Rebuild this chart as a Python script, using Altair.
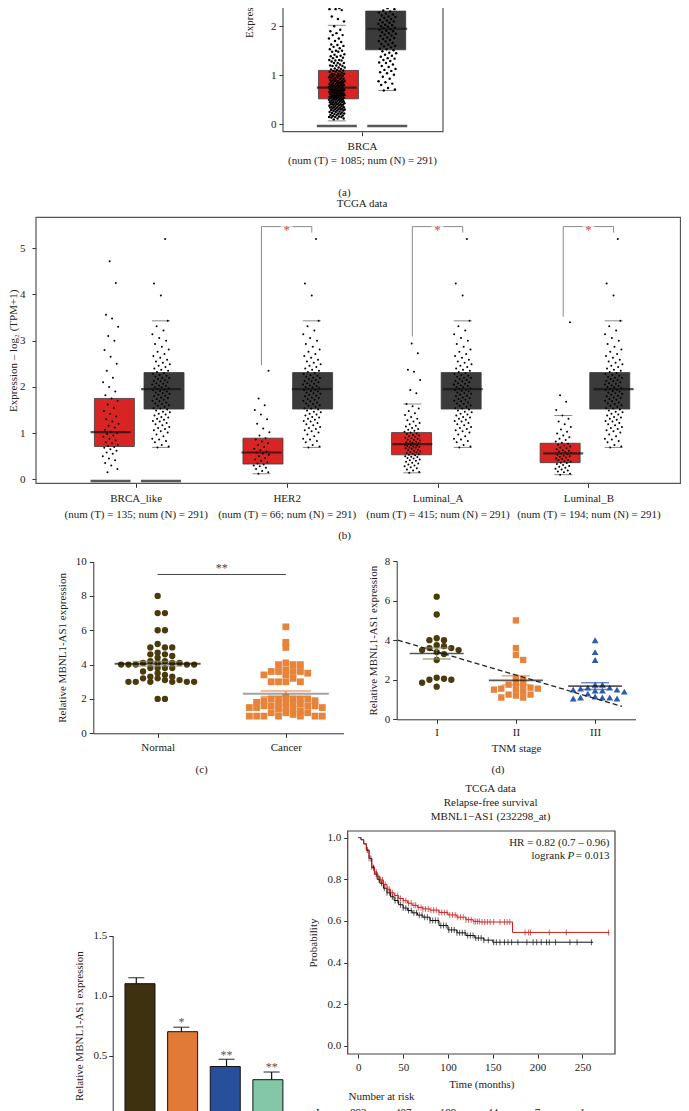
import json
import altair as alt
import pandas as pd

M = 8
W, H = 673, 1103
FONT = "Liberation Serif"
INK = "#222222"

# ---------------- (a) BRCA tumour vs normal ----------------
a_label = "BRCA"
a_counts = "(num (T) = 1085; num (N) = 291)"
a_q1 = [0.52, 1.52]
a_median = [0.75, 1.95]
a_q3 = [1.10, 2.31]
a_low = [0.07, 0.69]
a_high = [2.02, 3.43]

# ---------------- (b) subtypes ----------------
b_categories = ["BRCA_like", "HER2", "Luminal_A", "Luminal_B"]
b_counts = ["(num (T) = 135; num (N) = 291)", "(num (T) = 66; num (N) = 291)",
            "(num (T) = 415; num (N) = 291)", "(num (T) = 194; num (N) = 291)"]
b_tumor_q1 = [0.71, 0.33, 0.53, 0.36]
b_tumor_median = [1.02, 0.58, 0.76, 0.56]
b_tumor_q3 = [1.75, 0.89, 1.01, 0.78]
b_tumor_low = [None, 0.12, 0.14, 0.10]
b_tumor_high = [None, None, 1.63, 1.38]
normal_q1, normal_median, normal_q3, normal_low, normal_high = 1.52, 1.95, 2.31, 0.69, 3.43
b_sig_start = [None, 2.47, 3.09, 3.52]
b_sig_top = 5.47
b_sig_end = 5.34
zero_bar = -0.035

normal_points = [0.69, 0.71, 0.74, 0.8, 0.83, 0.86, 0.88, 0.93, 0.97, 1.01, 1.04, 1.06, 1.09, 1.11,
                 1.13, 1.17, 1.19, 1.22, 1.25, 1.26, 1.29, 1.31, 1.34, 1.35, 1.38, 1.4, 1.42, 1.45,
                 1.46, 1.49, 1.51, 1.53, 1.54, 1.57, 1.59, 1.6, 1.63, 1.64, 1.66, 1.69, 1.7, 1.72,
                 1.74, 1.76, 1.77, 1.8, 1.81, 1.83, 1.85, 1.86, 1.88, 1.9, 1.91, 1.93, 1.94, 1.96,
                 1.97, 1.99, 2.0, 2.02, 2.03, 2.05, 2.07, 2.08, 2.1, 2.12, 2.13, 2.15, 2.17, 2.19,
                 2.2, 2.22, 2.24, 2.26, 2.28, 2.3, 2.32, 2.35, 2.37, 2.4, 2.43, 2.46, 2.49, 2.52,
                 2.55, 2.59, 2.63, 2.67, 2.71, 2.76, 2.81, 2.87, 2.93, 3.0, 3.06, 3.14, 3.22, 3.31,
                 3.43, 3.98, 4.24, 5.2]
brca_like_points = [0.15, 0.22, 0.3, 0.35, 0.41, 0.45, 0.5, 0.55, 0.58, 0.62, 0.65, 0.68, 0.7,
                    0.72, 0.75, 0.78, 0.8, 0.84, 0.88, 0.92, 0.95, 0.98, 1.0, 1.03, 1.07, 1.12,
                    1.16, 1.2, 1.25, 1.3, 1.36, 1.42, 1.48, 1.55, 1.62, 1.7, 1.75, 1.82, 1.9, 2.0,
                    2.1, 2.2, 2.35, 2.5, 2.65, 2.8, 3.0, 3.1, 3.3, 3.48, 3.56, 4.25, 4.72]
her2_points = [0.12, 0.15, 0.18, 0.22, 0.25, 0.28, 0.3, 0.32, 0.34, 0.37, 0.4, 0.43, 0.46, 0.5,
               0.53, 0.56, 0.58, 0.6, 0.63, 0.66, 0.7, 0.74, 0.78, 0.82, 0.86, 0.89, 0.95, 1.02,
               1.1, 1.2, 1.3, 1.4, 1.5, 1.6, 1.75, 2.35]
luminal_a_points = [0.14, 0.16, 0.19, 0.21, 0.24, 0.26, 0.28, 0.3, 0.32, 0.34, 0.36, 0.38, 0.4,
                    0.41, 0.43, 0.45, 0.46, 0.48, 0.49, 0.5, 0.52, 0.53, 0.54, 0.55, 0.57, 0.58,
                    0.59, 0.6, 0.62, 0.63, 0.64, 0.66, 0.67, 0.68, 0.69, 0.7, 0.71, 0.72, 0.73,
                    0.74, 0.75, 0.76, 0.77, 0.78, 0.79, 0.8, 0.81, 0.82, 0.84, 0.85, 0.86, 0.88,
                    0.89, 0.9, 0.92, 0.93, 0.95, 0.96, 0.98, 0.99, 1.01, 1.03, 1.05, 1.07, 1.09,
                    1.11, 1.14, 1.16, 1.19, 1.22, 1.25, 1.28, 1.31, 1.35, 1.39, 1.43, 1.48, 1.53,
                    1.58, 1.63, 1.86, 1.93, 2.15, 2.33, 2.37, 2.73, 2.94]
luminal_b_points = [0.1, 0.12, 0.15, 0.17, 0.19, 0.21, 0.23, 0.25, 0.27, 0.29, 0.31, 0.33, 0.35,
                    0.36, 0.38, 0.39, 0.41, 0.42, 0.44, 0.45, 0.47, 0.48, 0.5, 0.51, 0.53, 0.54,
                    0.56, 0.57, 0.59, 0.6, 0.62, 0.63, 0.65, 0.67, 0.69, 0.71, 0.73, 0.75, 0.77,
                    0.79, 0.82, 0.85, 0.88, 0.91, 0.95, 0.99, 1.03, 1.08, 1.13, 1.19, 1.25, 1.31,
                    1.38, 1.5, 1.68, 1.82, 3.4]

# ---------------- (c) normal vs cancer ----------------
c_groups = ["Normal", "Cancer"]
c_normal = [8.0, 7.0, 7.0, 6.0, 6.0, 5.2, 5.0, 5.0, 5.0, 4.7, 4.6, 4.6, 4.5, 4.4, 4.2, 4.2, 4.1,
            4.1, 4.1, 4.1, 4.0, 4.0, 4.0, 4.0, 4.0, 3.8, 3.8, 3.8, 3.8, 3.6, 3.5, 3.4, 3.3, 3.3,
            3.2, 3.2, 3.1, 3.1, 3.0, 3.0, 3.0, 3.0, 3.0, 3.0, 2.0, 2.0]
c_cancer = [6.2, 5.3, 5.0, 4.1, 4.0, 4.0, 4.0, 3.7, 3.6, 3.6, 3.6, 3.6, 3.5, 3.4, 3.4, 3.2, 3.0,
            3.0, 3.0, 3.0, 2.1, 2.0, 2.0, 2.0, 2.0, 2.0, 1.9, 1.9, 1.8, 1.8, 1.7, 1.7, 1.7, 1.6,
            1.6, 1.6, 1.6, 1.5, 1.5, 1.5, 1.5, 1.4, 1.4, 1.3, 1.2, 1.2, 1.2, 1.1, 1.0, 1.0, 1.0,
            1.0, 1.0, 1.0, 1.0]
c_mean = [4.05, 2.30]
c_sem = [0.13, 0.16]
c_sig = "**"

# ---------------- (d) TNM stage ----------------
d_stages = ["I", "II", "III"]
d_stage1 = [6.2, 5.3, 4.1, 4.0, 4.0, 3.75, 3.7, 3.6, 3.6, 3.5, 3.5, 3.4, 3.3, 3.0, 2.1, 2.0,
            2.0, 2.05, 1.85, 1.65]
d_stage2 = [5.0, 3.6, 3.25, 3.0, 2.1, 2.0, 1.8, 1.75, 1.7, 1.6, 1.55, 1.55, 1.5, 1.5, 1.4,
            1.25, 1.25, 1.2, 1.1, 1.1]
d_stage3 = [4.0, 3.4, 3.0, 1.75, 1.75, 1.6, 1.6, 1.55, 1.5, 1.5, 1.45, 1.45, 1.4, 1.3, 1.15,
            1.1, 1.1, 1.05, 1.05, 1.1]
d_mean = [3.33, 1.97, 1.68]
d_sem = [0.28, 0.23, 0.17]
d_trend_x = [-0.49, 2.34]
d_trend_y = [4.0, 0.65]

# ---------------- (e) bar chart ----------------
e_values = [1.10, 0.70, 0.41, 0.30]
e_errors = [0.05, 0.037, 0.06, 0.064]
e_marks = ["", "*", "**", "**"]
e_fills = ["#3d3110", "#e07a36", "#274f9c", "#82c7a6"]

# ---------------- (f) Kaplan-Meier ----------------
f_title = ["TCGA data", "Relapse-free survival", "MBNL1\u2212AS1 (232298_at)"]
f_high_t = [0, 3, 6, 9, 12, 15, 18, 21, 24, 28, 32, 36, 40, 45, 50, 55, 60, 66, 72, 80, 90, 100,
            110, 120, 128, 136, 172, 280]
f_high_s = [1.0, 0.99, 0.97, 0.94, 0.9, 0.86, 0.835, 0.815, 0.797, 0.775, 0.752, 0.735, 0.722,
            0.708, 0.697, 0.685, 0.675, 0.665, 0.658, 0.652, 0.641, 0.629, 0.618, 0.606, 0.598,
            0.595, 0.545, 0.545]
f_low_t = [0, 3, 6, 9, 12, 15, 18, 21, 24, 28, 32, 36, 40, 45, 50, 55, 60, 66, 72, 80, 90, 100,
           110, 120, 130, 140, 150, 262]
f_low_s = [1.0, 0.99, 0.97, 0.94, 0.9, 0.855, 0.825, 0.8, 0.781, 0.757, 0.735, 0.716, 0.698,
           0.678, 0.662, 0.65, 0.639, 0.628, 0.618, 0.602, 0.578, 0.557, 0.543, 0.53, 0.518,
           0.508, 0.498, 0.498]
f_high_censor = [12, 15, 18, 20, 22, 25, 27, 30, 33, 35, 38, 41, 44, 47, 50, 53, 56, 59, 62, 64,
                 67, 70, 72, 75, 78, 81, 84, 87, 90, 93, 96, 99, 102, 105, 108, 111, 114, 117,
                 120, 123, 126, 129, 131, 133, 135, 138, 141, 144, 147, 151, 158, 163, 166, 169,
                 186, 190, 192, 213, 232, 279]
f_low_censor = [10, 14, 17, 20, 23, 26, 29, 32, 35, 38, 41, 44, 47, 50, 53, 56, 59, 62, 65, 68,
                71, 74, 77, 80, 83, 86, 89, 92, 95, 98, 101, 104, 107, 110, 113, 116, 119, 122,
                125, 128, 131, 134, 137, 140, 145, 151, 154, 158, 163, 167, 171, 178, 188, 195,
                199, 204, 210, 213, 220, 236, 244, 260]
f_hr = "HR = 0.82 (0.7 \u2013 0.96)"
f_p = "= 0.013"
f_risk_times = [0, 50, 100, 150, 200, 250]
f_risk_low = ["893", "487", "189", "44", "7", "1"]

TUMOR = "#d92424"
NORMAL = "#3b3b3b"
OLIVE = "#4a3b0c"
ORANGE = "#e8833a"
BLUE = "#2c5cab"


# ================= helpers =================
def sc(domain, p0, p1):
    return alt.Scale(domain=list(domain), range=[p0 - M, p1 - M], nice=False, zero=False)


AX = sc([-0.527, 0.54], 283, 443)
AY = sc([-0.151, 2.373], 131.7, 8)
BX = sc([-0.661, 3.66], 36, 688)
BY = sc([-0.087, 5.671], 483.3, 217.3)
CX = sc([-0.502, 1.45], 93.3, 343.5)
CY = sc([0, 10], 733.3, 561.6)
DX = sc([-0.505, 2.51], 396.7, 635.5)
DY = sc([0, 8], 719.3, 561.1)
EX = sc([-0.523, 3.5], 112.7, 294.2)
EY = sc([0, 1.5], 1115.7, 935.7)
FX = sc([-11.83, 286.3], 347.7, 615)
FY = sc([-0.0384, 1.0317], 1054, 831)


def left_axis(page_x, values, **kw):
    base = dict(orient="left", offset=-(page_x - M), values=values, grid=False,
                labelFlush=False, labelOverlap=False)
    base.update(kw)
    return alt.Axis(**base)


def bottom_axis(page_y, values, **kw):
    base = dict(orient="bottom", offset=(page_y - M) - H, values=values, grid=False,
                labelFlush=False, labelOverlap=False)
    base.update(kw)
    return alt.Axis(**base)


def xq(field, S, axis=None):
    return alt.X(f"{field}:Q", scale=S, axis=axis)


def yq(field, S, axis=None):
    return alt.Y(f"{field}:Q", scale=S, axis=axis)


layers = []


def text_layer(rows, X, Y, **mk):
    props = dict(font=FONT, fontSize=11, color=INK, baseline="middle")
    props.update(mk)
    return alt.Chart(pd.DataFrame(rows)).mark_text(**props).encode(
        x=xq("x", X), y=yq("y", Y), text="t:N")


def frame(X, Y, xd, yd, color="#555555"):
    df = pd.DataFrame([dict(x0=xd[0], x1=xd[1], y0=yd[0], y1=yd[1])])
    return alt.Chart(df).mark_rect(fill="white", fillOpacity=0, stroke=color, strokeWidth=1.2).encode(
        x=xq("x0", X), x2="x1:Q", y=yq("y0", Y), y2="y1:Q")


def box_layers(df, X, Y):
    out = [alt.Chart(df).mark_bar(size=40, orient="vertical", stroke="#3a3a3a", strokeWidth=0.8).encode(
        x=xq("x", X), y=yq("q1", Y), y2="q3:Q", color=alt.Color("fill:N", scale=None))]
    caps = pd.concat([df[["x", "lo"]].rename(columns={"lo": "v"}),
                      df[["x", "hi"]].rename(columns={"hi": "v"})]).dropna()
    out.append(alt.Chart(caps).mark_tick(orient="horizontal", size=18, thickness=1, color="#555555").encode(
        x=xq("x", X), y=yq("v", Y)))
    return out


def median_layer(df, X, Y):
    return alt.Chart(df).mark_tick(orient="horizontal", size=40, thickness=2.2, color="#111111").encode(
        x=xq("x", X), y=yq("med", Y))


GOLD = 0.6180339887


def jitter_rows(vals, center, half_px, ppx):
    rows = []
    for k, v in enumerate(sorted(vals)):
        frac = (k * GOLD + 0.31) % 1.0
        rows.append(dict(x=center + (frac - 0.5) * 2 * half_px / ppx, v=v))
    return rows


COLS = [0]
for _k in range(1, 14):
    COLS += [_k, -_k]


def swarm_rows(vals, center, ppu, col_px, ppx, sep_px=5.5):
    placed = {}
    rows = []
    for v in sorted(vals, reverse=True):
        y = v * ppu
        for c in COLS:
            if all(abs(y - yy) >= sep_px for yy in placed.get(c, [])):
                placed.setdefault(c, []).append(y)
                rows.append(dict(x=center + c * col_px / ppx, v=v))
                break
    return rows


# ================= panel (a) =================
A_PPX = 149.95
a_off = 25.2 / A_PPX
a_box = pd.DataFrame(dict(x=[-a_off, a_off], q1=a_q1, med=a_median, q3=a_q3, lo=a_low, hi=a_high,
                          fill=[TUMOR, NORMAL]))
layers.append(frame(AX, AY, [-0.527, 0.54], [-0.151, 3.5]))
layers += box_layers(a_box, AX, AY)
a_tumor_all = brca_like_points + her2_points + luminal_a_points + luminal_b_points
a_pts = jitter_rows(a_tumor_all, -a_off, 8, A_PPX) + jitter_rows(normal_points, a_off, 9, A_PPX)
layers.append(alt.Chart(pd.DataFrame(a_pts)).mark_circle(size=6, color="black", opacity=1).encode(
    x=xq("x", AX), y=yq("v", AY)))
layers.append(median_layer(a_box, AX, AY))
layers.append(alt.Chart(pd.DataFrame(dict(x=[-a_off, a_off], v=[zero_bar, zero_bar]))).mark_tick(
    orient="horizontal", size=40, thickness=2.5, color="#111111").encode(
    x=xq("x", AX, bottom_axis(131.7, [0], labelExpr=json.dumps([[a_label, a_counts]], ensure_ascii=False)
                              + "[round(datum.value)]", labelLineHeight=13.5, labelPadding=5, title=None,
                              domain=False)),
    y=yq("v", AY, left_axis(283, [0, 1, 2], labelPadding=3, title=None, domain=False))))
layers.append(text_layer([dict(x=-0.747, y=1.761, t="Expression \u2013 log\u2082 (TPM+1)")], AX, AY,
                         angle=270, align="left"))
layers.append(text_layer([dict(x=-0.117, y=-1.40, t="(a)")], AX, AY))

# ================= panel (b) =================
B_PPX = 150.9
b_off = 25.2 / B_PPX
n = len(b_categories)
b_box = pd.DataFrame(dict(
    x=[i - b_off for i in range(n)] + [i + b_off for i in range(n)],
    q1=b_tumor_q1 + [normal_q1] * n, med=b_tumor_median + [normal_median] * n,
    q3=b_tumor_q3 + [normal_q3] * n,
    lo=[float("nan") if v is None else v for v in b_tumor_low] + [normal_low] * n,
    hi=[float("nan") if v is None else v for v in b_tumor_high] + [normal_high] * n,
    fill=[TUMOR] * n + [NORMAL] * n))
layers.append(frame(BX, BY, [-0.661, 3.61], [-0.087, 5.671]))
layers += box_layers(b_box, BX, BY)
b_pts = []
for i, lst in enumerate([brca_like_points, her2_points, luminal_a_points, luminal_b_points]):
    b_pts += jitter_rows(lst, i - b_off, 8, B_PPX)
    b_pts += jitter_rows(normal_points, i + b_off, 9, B_PPX)
layers.append(alt.Chart(pd.DataFrame(b_pts)).mark_circle(size=4, color="black", opacity=1).encode(
    x=xq("x", BX), y=yq("v", BY)))
layers.append(median_layer(b_box, BX, BY))
b_labels = json.dumps([[c, s] for c, s in zip(b_categories, b_counts)], ensure_ascii=False)
layers.append(alt.Chart(pd.DataFrame(dict(x=[-b_off, b_off], v=[zero_bar, zero_bar]))).mark_tick(
    orient="horizontal", size=40, thickness=2.5, color="#111111").encode(
    x=xq("x", BX, bottom_axis(483.3, list(range(n)), labelExpr=b_labels + "[round(datum.value)]",
                              labelLineHeight=16, labelPadding=5, title=None, domain=False)),
    y=yq("v", BY, left_axis(36, [0, 1, 2, 3, 4, 5], labelPadding=7, title="Expression \u2013 log\u2082 (TPM+1)",
                            titlePadding=1, domain=False))))
br = []
for i, s in enumerate(b_sig_start):
    if s is None:
        continue
    pts = [(i - b_off, s), (i - b_off, b_sig_top), (i + b_off, b_sig_top), (i + b_off, b_sig_end)]
    for k, (xx, yy) in enumerate(pts):
        br.append(dict(id=i, k=k, x=xx, v=yy))
br_df = pd.DataFrame(br)
layers.append(alt.Chart(br_df).mark_line(color="#8a8a8a", strokeWidth=1).encode(
    x=xq("x", BX), y=yq("v", BY), detail="id:N", order="k:Q"))
sig_df = pd.DataFrame([dict(x=i, v=b_sig_top) for i, s in enumerate(b_sig_start) if s is not None])
layers.append(alt.Chart(sig_df).mark_tick(orient="horizontal", size=12, thickness=3, color="white").encode(
    x=xq("x", BX), y=yq("v", BY)))
layers.append(text_layer([dict(x=i, y=5.40, t="*") for i, s in enumerate(b_sig_start) if s is not None],
                         BX, BY, color="#e8413a", fontSize=13))
layers.append(text_layer([dict(x=1.5, y=5.96, t="TCGA data")], BX, BY))
layers.append(text_layer([dict(x=1.384, y=-1.227, t="(b)")], BX, BY))

# ================= panel (c) =================
C_PPX = 128.2
c_n = pd.DataFrame(swarm_rows(c_normal, 0, 17.17, 7.3, C_PPX, sep_px=4.3))
c_c = pd.DataFrame(swarm_rows(c_cancer, 1, 17.17, 7.3, C_PPX, sep_px=4.3))
layers.append(alt.Chart(c_n).mark_circle(size=40, color=OLIVE, opacity=1).encode(
    x=xq("x", CX, bottom_axis(733.3, [0, 1], labelExpr=json.dumps(c_groups) + "[round(datum.value)]",
                              labelPadding=4, title=None)),
    y=yq("v", CY, left_axis(93.3, [0, 2, 4, 6, 8, 10], labelPadding=3,
                            title="Relative MBNL1-AS1 expression", titlePadding=8))))
layers.append(alt.Chart(c_c).mark_point(shape="square", filled=True, size=46, color=ORANGE, opacity=1).encode(
    x=xq("x", CX), y=yq("v", CY)))
c_stats = pd.DataFrame(dict(x=[0, 1], m=c_mean, lo=[m - s for m, s in zip(c_mean, c_sem)],
                            hi=[m + s for m, s in zip(c_mean, c_sem)], col=["#8c835e", ORANGE],
                            mcol=["#111111", "#7a7a7a"]))
layers.append(alt.Chart(c_stats).mark_rule(strokeWidth=1.2).encode(
    x=xq("x", CX), y=yq("lo", CY), y2="hi:Q", color=alt.Color("col:N", scale=None)))
c_caps = pd.concat([c_stats[["x", "lo", "col"]].rename(columns={"lo": "v"}),
                    c_stats[["x", "hi", "col"]].rename(columns={"hi": "v"})])
layers.append(alt.Chart(c_caps).mark_tick(orient="horizontal", size=50, thickness=1.5).encode(
    x=xq("x", CX), y=yq("v", CY), color=alt.Color("col:N", scale=None)))
layers.append(alt.Chart(c_stats).mark_tick(orient="horizontal", size=86, thickness=2).encode(
    x=xq("x", CX), y=yq("m", CY), color=alt.Color("mcol:N", scale=None)))
layers.append(alt.Chart(pd.DataFrame(dict(x=[0, 1], v=[9.25, 9.25]))).mark_line(color="#444444", strokeWidth=1).encode(
    x=xq("x", CX), y=yq("v", CY)))
layers.append(text_layer([dict(x=0.5, y=9.6, t=c_sig)], CX, CY, fontSize=12, color="#444444"))
layers.append(text_layer([dict(x=0.343, y=-2.14, t="(c)")], CX, CY))

# ================= panel (d) =================
D_PPX = 79.2
for i, (lst, shp, col) in enumerate(zip([d_stage1, d_stage2, d_stage3], ["circle", "square", "triangle-up"],
                                        [OLIVE, ORANGE, BLUE])):
    df = pd.DataFrame(swarm_rows(lst, i, 19.77, 7.3, D_PPX))
    enc = dict(x=xq("x", DX), y=yq("v", DY))
    if i == 0:
        enc = dict(
            x=xq("x", DX, bottom_axis(719.3, [0, 1, 2], labelExpr=json.dumps(d_stages) + "[round(datum.value)]",
                                      labelPadding=3, title="TNM stage", titlePadding=5)),
            y=yq("v", DY, left_axis(396.7, [0, 2, 4, 6, 8], labelPadding=3,
                                    title="Relative MBNL1-AS1 expression", titlePadding=6)))
    layers.append(alt.Chart(df).mark_point(shape=shp, filled=True, size=40 if shp != "triangle-up" else 46,
                                           color=col, opacity=1).encode(**enc))
d_stats = pd.DataFrame(dict(x=[0, 1, 2], m=d_mean, lo=[m - s for m, s in zip(d_mean, d_sem)],
                            hi=[m + s for m, s in zip(d_mean, d_sem)], col=["#8c835e", ORANGE, BLUE]))
layers.append(alt.Chart(d_stats).mark_rule(strokeWidth=1.2).encode(
    x=xq("x", DX), y=yq("lo", DY), y2="hi:Q", color=alt.Color("col:N", scale=None)))
d_caps = pd.concat([d_stats[["x", "lo", "col"]].rename(columns={"lo": "v"}),
                    d_stats[["x", "hi", "col"]].rename(columns={"hi": "v"})])
layers.append(alt.Chart(d_caps).mark_tick(orient="horizontal", size=28, thickness=1.5).encode(
    x=xq("x", DX), y=yq("v", DY), color=alt.Color("col:N", scale=None)))
layers.append(alt.Chart(d_stats).mark_tick(orient="horizontal", size=54, thickness=1.6, color="#111111").encode(
    x=xq("x", DX), y=yq("m", DY)))
layers.append(alt.Chart(pd.DataFrame(dict(x=d_trend_x, v=d_trend_y))).mark_line(
    color="#222222", strokeWidth=1.3, strokeDash=[5, 3]).encode(x=xq("x", DX), y=yq("v", DY)))
layers.append(text_layer([dict(x=0.774, y=-2.56, t="(d)")], DX, DY))

# ================= panel (e) =================
e_df = pd.DataFrame(dict(x=list(range(4)), base=[0.0] * 4, v=e_values,
                         top=[v + e for v, e in zip(e_values, e_errors)], fill=e_fills, mark=e_marks))
layers.append(alt.Chart(e_df).mark_rule(color="#111111", strokeWidth=1.2).encode(
    x=xq("x", EX), y=yq("v", EY), y2="top:Q"))
layers.append(alt.Chart(e_df).mark_tick(orient="horizontal", size=16, thickness=1.3, color="#111111").encode(
    x=xq("x", EX), y=yq("top", EY)))
layers.append(alt.Chart(e_df).mark_bar(size=30, orient="vertical", stroke="#111111", strokeWidth=1).encode(
    x=xq("x", EX), y=yq("base", EY, left_axis(112.7, [0, 0.5, 1.0, 1.5], format=".1f", labelPadding=2,
                                              title="Relative MBNL1-AS1 expression", titlePadding=8)),
    y2="v:Q", color=alt.Color("fill:N", scale=None)))
e_sig = e_df.assign(ty=e_df["top"] + 0.04)
layers.append(alt.Chart(e_sig).mark_text(font=FONT, fontSize=12, color="#555555", baseline="middle").encode(
    x=xq("x", EX), y=yq("ty", EY), text="mark:N"))


# ================= panel (f) =================
def surv_at(ts, ss, c):
    val = ss[0]
    for t, s in zip(ts, ss):
        if t <= c:
            val = s
    return val


layers.append(frame(FX, FY, [-11.83, 286.3], [-0.0384, 1.0317], color="#444444"))
layers.append(alt.Chart(pd.DataFrame(dict(t=f_low_t, s=f_low_s))).mark_line(
    interpolate="step-after", color="#111111", strokeWidth=1).encode(
    x=xq("t", FX, bottom_axis(1054, [0, 50, 100, 150, 200, 250], labelPadding=3, title="Time (months)",
                              titlePadding=6, domain=False)),
    y=yq("s", FY, left_axis(347.7, [0, 0.2, 0.4, 0.6, 0.8, 1.0], format=".1f", labelPadding=3,
                            title="Probability", titlePadding=8, domain=False))))
layers.append(alt.Chart(pd.DataFrame(dict(t=f_high_t, s=f_high_s))).mark_line(
    interpolate="step-after", color="#cc1f1f", strokeWidth=1).encode(x=xq("t", FX), y=yq("s", FY)))
low_c = pd.DataFrame(dict(t=f_low_censor, s=[surv_at(f_low_t, f_low_s, c) for c in f_low_censor]))
high_c = pd.DataFrame(dict(t=f_high_censor, s=[surv_at(f_high_t, f_high_s, c) for c in f_high_censor]))
layers.append(alt.Chart(low_c).mark_tick(orient="vertical", size=6, thickness=1, color="#111111").encode(
    x=xq("t", FX), y=yq("s", FY)))
layers.append(alt.Chart(high_c).mark_tick(orient="vertical", size=6, thickness=1, color="#cc1f1f").encode(
    x=xq("t", FX), y=yq("s", FY)))
layers.append(text_layer([dict(x=147.5, y=1.233, t=f_title[0]), dict(x=147.5, y=1.166, t=f_title[1]),
                          dict(x=147.5, y=1.100, t=f_title[2])], FX, FY))
layers.append(text_layer([dict(x=280.1, y=0.9755, t=f_hr), dict(x=280.1, y=0.9117, t=f_p)], FX, FY,
                         align="right"))
layers.append(text_layer([dict(x=230.7, y=0.9117, t="logrank")], FX, FY, align="right"))
layers.append(text_layer([dict(x=233.3, y=0.9117, t="P")], FX, FY, align="left", fontStyle="italic"))
layers.append(text_layer([dict(x=-11.0, y=-0.243, t="Number at risk")], FX, FY, align="left"))
layers.append(text_layer([dict(x=t, y=-0.321, t=v) for t, v in zip(f_risk_times, f_risk_low)] +
                         [dict(x=-36.0, y=-0.321, t="Low")], FX, FY))

chart = alt.layer(*layers).resolve_scale(x="independent", y="independent").resolve_axis(
    x="independent", y="independent").properties(
    width=W, height=H, padding=0, autosize=alt.AutoSizeParams(type="none")).configure_view(
    stroke=None).configure_axis(
    labelFont=FONT, titleFont=FONT, labelFontSize=11, titleFontSize=11, titleFontWeight="normal",
    labelColor=INK, titleColor=INK, tickColor="#333333", domainColor="#333333", tickSize=4,
    domainWidth=1, tickWidth=1)

chart.save("out.html", embed_options={"renderer": "svg", "actions": False})
